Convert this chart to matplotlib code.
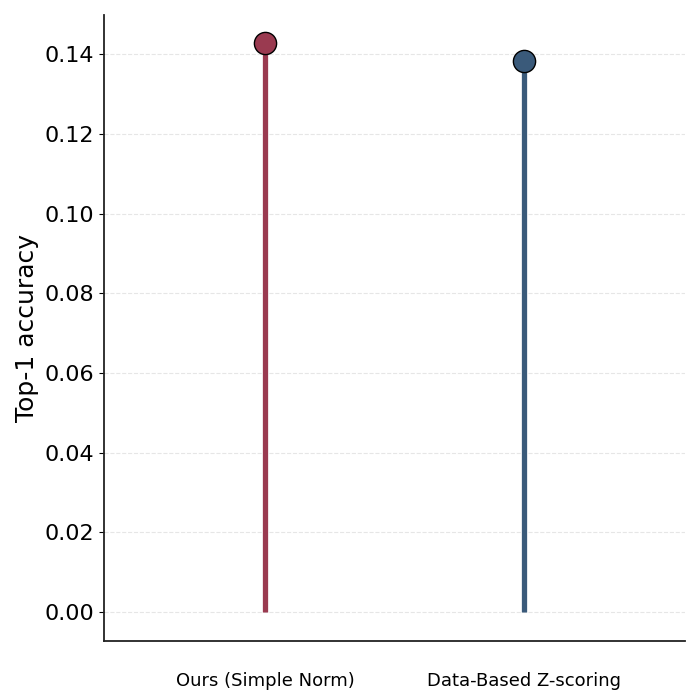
import matplotlib
matplotlib.use("Agg")
import matplotlib.pyplot as plt

methods = ["Ours (Simple Norm)", "Data-Based Z-scoring"]
accuracy = [0.1428, 0.1383]
colors = ["#9a3a50", "#3a5a7a"]

fig = plt.figure(figsize=(7, 7), dpi=100)
ax = fig.add_axes([0.1486, 0.0843, 0.83, 0.894])

x = list(range(len(methods)))
for i, (xi, v) in enumerate(zip(x, accuracy)):
    ax.vlines(xi, 0, v, color=colors[i], linewidth=3.8, zorder=2)
    ax.plot(xi, v, "o", markersize=16, markerfacecolor=colors[i],
            markeredgecolor="black", markeredgewidth=1.0, zorder=3)

ax.set_xticks(x)
ax.set_xticklabels(methods, fontsize=13)
ax.tick_params(axis="x", length=0, pad=22.5)
ax.tick_params(axis="y", labelsize=16)
ax.set_xlim(-0.625, 1.625)
ax.set_ylim(-0.0073, 0.1498)
ax.set_ylabel("Top-1 accuracy", fontsize=18)
ax.yaxis.grid(True, linestyle="--", color="#e6e6e6", linewidth=0.8)
ax.set_axisbelow(True)
for s in ["top", "right"]:
    ax.spines[s].set_visible(False)
for s in ["left", "bottom"]:
    ax.spines[s].set_linewidth(1.3)
    ax.spines[s].set_color("#222222")

fig.savefig("out.png", dpi=100)
